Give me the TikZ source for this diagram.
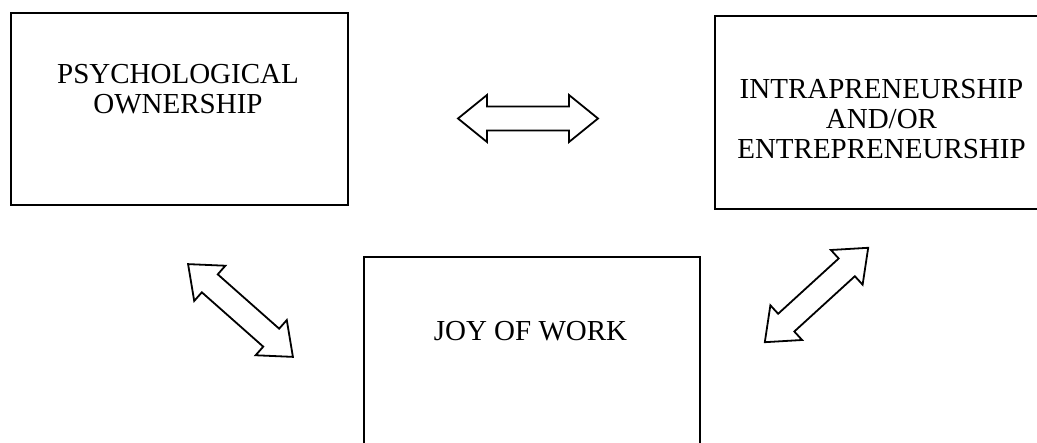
\documentclass[tikz,border=0pt]{standalone}
\usepackage{fontspec}
\setmainfont{Liberation Serif}
\begin{document}
\begin{tikzpicture}[x=1pt,y=-1pt,
  boxline/.style={draw=black,line width=1.9pt},
  lbl/.style={inner sep=0pt,align=center,anchor=north,font=\fontsize{29}{30}\selectfont},
  arrowline/.style={draw=black,fill=white,line width=1.8pt,line join=miter},
  dblarrow/.pic={\path[arrowline] (-70,0) -- (-41,23.5) -- (-41,12) -- (41,12) -- (41,23.5)
     -- (70,0) -- (41,-23.5) -- (41,-12) -- (-41,-12) -- (-41,-23.5) -- cycle;}]
\clip (0,0) rectangle (1037,443);
\fill[white] (0,0) rectangle (1037,443);
% boxes
\node[boxline,rectangle,minimum width=337pt,minimum height=192pt,anchor=north west] (po) at (10,12) {};
\node[boxline,rectangle,minimum width=340pt,minimum height=193pt,anchor=north west] (ie) at (714,15) {};
\node[boxline,rectangle,minimum width=336pt,minimum height=220pt,anchor=north west] (jw) at (363,256) {};
% labels
\node[lbl] (tpo) at (178,64.5) {PSYCHOLOGICAL\\OWNERSHIP};
\node[lbl] (tie) at (881.5,79) {INTRAPRENEURSHIP\\AND/OR\\ENTREPRENEURSHIP};
\node[lbl] (tjw) at (530.5,321.5) {JOY OF WORK};
% block arrows
\pic (a1) at (528,118.5) {dblarrow};
\pic[rotate=-41.5] (a2) at (240.5,310.5) {dblarrow};
\pic[rotate=42.4] (a3) at (816.5,295) {dblarrow};
\end{tikzpicture}
\end{document}
